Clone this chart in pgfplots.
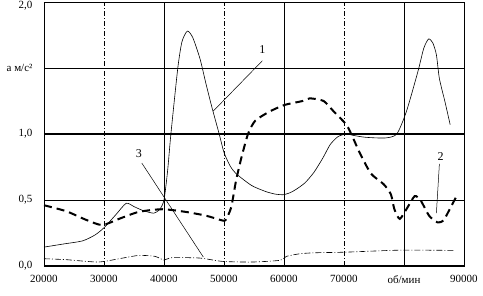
\documentclass[border=0pt]{standalone}
\usepackage{fontspec}
\setmainfont{Liberation Serif}
\usepackage{pgfplots}
\pgfplotsset{compat=1.18}
\begin{document}
\begin{tikzpicture}
\begin{axis}[
  scale only axis, width=420pt, height=264pt,
  xmin=20000, xmax=90000, ymin=0, ymax=2,
  scaled x ticks=false, scaled y ticks=false,
  axis line style={line width=0.5pt},
  major tick length=0pt,
  grid=major,
  grid style={black, line width=0.5pt},
  xtick={20000,40000,60000,80000},
  xticklabels={20000,40000,60000,об/мин},
  extra x ticks={30000,50000,70000,90000},
  extra x tick labels={30000,50000,70000,90000},
  extra x tick style={grid style={black, line width=0.5pt, dash pattern=on 5pt off 2pt on 1pt off 2pt}},
  ytick={0,0.5,1.5,2},
  yticklabels={0{,}0,0{,}5,a м/с²,\raisebox{-6.5pt}[0pt][0pt]{2{,}0}},
  extra y ticks={1},
  extra y tick labels={1{,}0},
  extra y tick style={grid style={black, line width=1.3pt}},
  tick label style={font=\fontsize{11}{13}\selectfont},
  xticklabel style={yshift=-6pt},
  yticklabel style={xshift=-8pt},
  clip=false,
]
% curve 1: thin solid
\addplot[black, line width=0.6pt, smooth, tension=0.4] coordinates {
(20000,0.143) (23000,0.165) (26400,0.19) (28500,0.235) (30000,0.29)
(32000,0.39) (33700,0.475) (35000,0.45) (36500,0.42) (38300,0.40)
(39300,0.43) (40000,0.50) (40600,0.72) (41150,1.00) (42300,1.50)
(43000,1.70) (43900,1.78) (44800,1.73) (46000,1.57) (47000,1.38)
(48000,1.20) (49200,1.00) (50000,0.86) (51000,0.76) (52000,0.70)
(54600,0.61) (56900,0.565) (58500,0.545) (59900,0.54) (61000,0.555)
(62000,0.58) (63500,0.63) (65000,0.71) (66500,0.82) (67700,0.92)
(69000,0.98) (70400,1.00) (71500,0.99) (73600,0.975) (76900,0.97)
(78800,1.00) (80400,1.17) (82300,1.47) (83300,1.65) (84100,1.72)
(84800,1.69) (85400,1.60) (85900,1.42) (86800,1.25) (87700,1.07)
};
% curve 2: thick dashed
\addplot[black, line width=2pt, dash pattern=on 8pt off 5pt, smooth, tension=0.4] coordinates {
(20000,0.46) (23700,0.415) (27000,0.35) (29700,0.31) (32500,0.357)
(35800,0.41) (39700,0.43) (43600,0.41) (47100,0.38) (49700,0.345)
(50300,0.35) (51200,0.445) (52000,0.645) (52900,0.82) (54000,1.0)
(55200,1.10) (57600,1.17) (60100,1.22) (63100,1.25) (64300,1.27)
(66600,1.25) (68300,1.17) (70400,1.07) (71500,0.97) (72700,0.85)
(74500,0.70) (76600,0.62) (77800,0.545) (78400,0.43) (79300,0.357)
(80600,0.445) (81800,0.53) (82800,0.495) (84200,0.38) (85600,0.33)
(86600,0.345) (87500,0.42) (89000,0.55)
};
% curve 3: thin dash-dot
\addplot[black, line width=0.6pt, dash pattern=on 6pt off 2pt on 1pt off 2pt, smooth, tension=0.4] coordinates {
(20000,0.055) (23700,0.048) (29000,0.03) (32500,0.055) (35800,0.08)
(38500,0.073) (40000,0.045) (41300,0.063) (46000,0.06) (49700,0.035)
(54700,0.03) (59300,0.043) (60400,0.073) (62700,0.093) (65100,0.10)
(70400,0.105) (79300,0.12) (88400,0.118)
};
% thick zero line
\draw[black, line width=1.5pt] (axis cs:20000,0) -- (axis cs:90000,0);
% labels and leaders
\node[font=\fontsize{12}{14}\selectfont] at (axis cs:56400,1.64) {1};
\draw[black, line width=0.5pt] (axis cs:56400,1.555) -- (axis cs:48200,1.173);
\node[font=\fontsize{12}{14}\selectfont] at (axis cs:35800,0.85) {3};
\draw[black, line width=0.5pt] (axis cs:36300,0.78) -- (axis cs:46550,0.068);
\node[font=\fontsize{12}{14}\selectfont] at (axis cs:86100,0.83) {2};
\draw[black, line width=0.5pt] (axis cs:85900,0.774) -- (axis cs:85400,0.40);
\end{axis}
\pgfresetboundingbox
\path[use as bounding box] (-44pt,-30pt) rectangle (439pt,266pt);
\end{tikzpicture}
\end{document}
